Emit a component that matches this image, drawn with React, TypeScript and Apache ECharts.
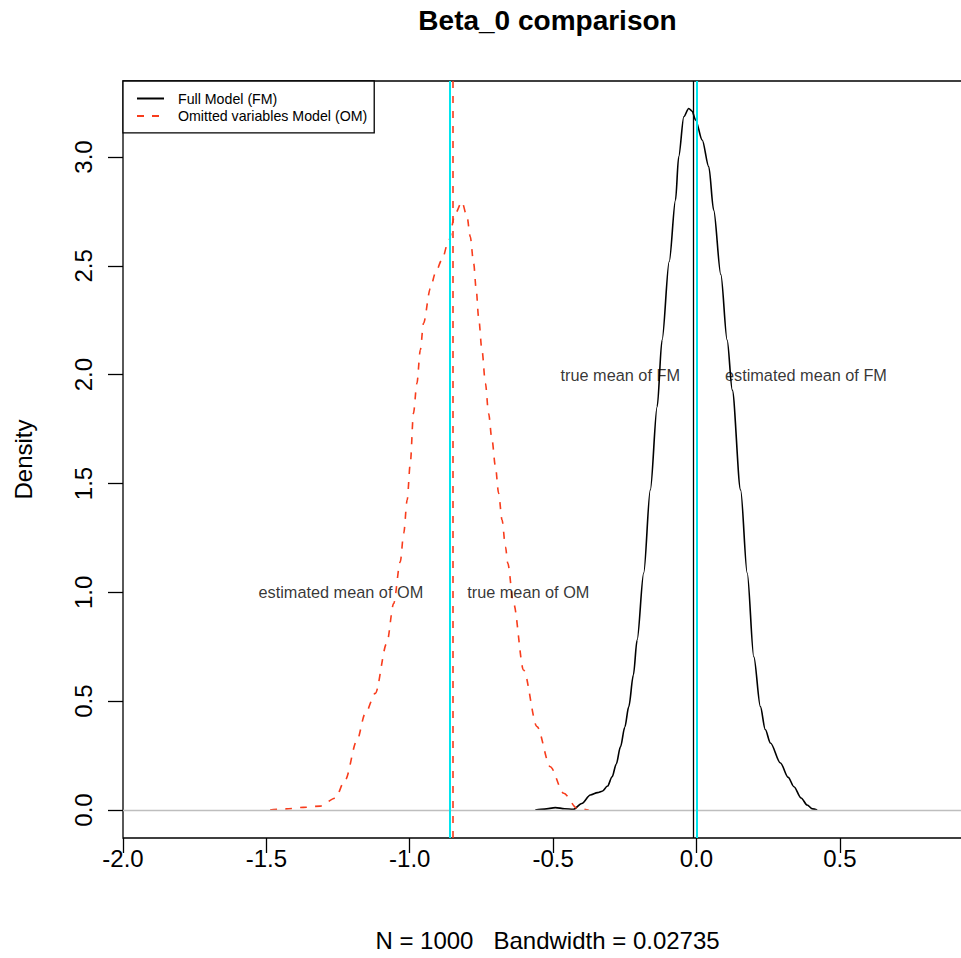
import React, { useEffect, useRef } from 'react';
import * as echarts from 'echarts';

const FONT = '"Liberation Sans", Arial, Helvetica, sans-serif';

const TITLE = 'Beta_0 comparison';
const SUBTITLE = 'N = 1000   Bandwidth = 0.02735';
const Y_NAME = 'Density';
const FM_NAME = 'Full Model (FM)';
const OM_NAME = 'Omitted variables Model (OM)';

const X_TICKS = [-2.0, -1.5, -1.0, -0.5, 0.0, 0.5];
const Y_TICKS = [0.0, 0.5, 1.0, 1.5, 2.0, 2.5, 3.0];

// Full model density
const FM_X = [
  -0.562, -0.53, -0.492, -0.46, -0.429, -0.4, -0.37, -0.345, -0.329, -0.31, -0.294,
  -0.28, -0.265, -0.25, -0.236, -0.22, -0.207, -0.184, -0.161, -0.137, -0.12, -0.095,
  -0.073, -0.062, -0.044, -0.027, -0.015, -0.003, 0.02, 0.043, 0.06, 0.085, 0.107,
  0.125, 0.154, 0.177, 0.2, 0.223, 0.24, 0.258, 0.293, 0.32, 0.34, 0.365, 0.386,
  0.405, 0.421,
];
const FM_Y = [
  0.0, 0.004, 0.011, 0.006, 0.003, 0.03, 0.069, 0.08, 0.086, 0.11, 0.153,
  0.21, 0.29, 0.38, 0.475, 0.62, 0.781, 1.089, 1.47, 1.853, 2.159, 2.52,
  2.802, 3.001, 3.185, 3.223, 3.21, 3.17, 3.078, 2.955, 2.756, 2.46, 2.159,
  1.929, 1.47, 1.089, 0.704, 0.475, 0.37, 0.308, 0.216, 0.15, 0.107, 0.055, 0.023,
  0.005, 0.0,
];

// Omitted variables model density
const OM_X = [
  -1.487, -1.43, -1.371, -1.312, -1.26, -1.225, -1.184, -1.155, -1.12, -1.08, -1.056,
  -1.033, -1.021, -1.009, -0.998, -0.987, -0.975, -0.963, -0.952, -0.928, -0.911,
  -0.888, -0.865, -0.841, -0.818, -0.8, -0.789, -0.777, -0.768, -0.76, -0.748, -0.736,
  -0.725, -0.713, -0.701, -0.69, -0.678, -0.666, -0.658, -0.638, -0.603, -0.556,
  -0.51, -0.463, -0.416, -0.376,
];
const OM_Y = [
  0.0, 0.005, 0.012, 0.018, 0.054, 0.138, 0.32, 0.444, 0.536, 0.766, 0.949,
  1.14, 1.271, 1.424, 1.593, 1.822, 1.96, 2.113, 2.236, 2.395, 2.465,
  2.526, 2.611, 2.741, 2.794, 2.725, 2.634, 2.511, 2.39, 2.266, 2.113, 1.96,
  1.822, 1.7, 1.577, 1.455, 1.332, 1.209, 1.133, 0.949, 0.643, 0.383,
  0.199, 0.077, 0.008, 0.0,
];

// vertical reference lines
const TRUE_MEAN_FM = 0.0;
const EST_MEAN_FM = -0.005;
const TRUE_MEAN_OM = -0.856;
const EST_MEAN_OM = -0.853;

// annotations
const ANN_TEXT = ['true mean of FM', 'estimated mean of FM', 'estimated mean of OM', 'true mean of OM'];
const ANN_X = [-0.0575, 0.0994, -0.953, -0.7995];
const ANN_Y = [2.0, 2.0, 1.0, 1.0];
const ANN_SIDE = ['left', 'right', 'left', 'right'];

export default function App() {
  const ref = useRef<HTMLDivElement>(null);

  useEffect(() => {
    if (!ref.current) return;
    const chart = echarts.init(ref.current, null, { renderer: 'svg' });
    const fmData = FM_X.map((x, i) => [x, FM_Y[i]]);
    const omData = OM_X.map((x, i) => [x, OM_Y[i]]);

    chart.setOption({
      animation: false,
      backgroundColor: '#ffffff',
      textStyle: { fontFamily: FONT, color: '#000' },
      title: {
        text: TITLE,
        left: 547.5,
        top: 6,
        padding: 0,
        textAlign: 'center',
        textStyle: { fontFamily: FONT, fontSize: 28, fontWeight: 'bold', color: '#000' },
      },
      legend: {
        data: [FM_NAME, OM_NAME],
        orient: 'vertical',
        left: 123,
        top: 81,
        padding: [10.5, 7, 10, 13],
        itemWidth: 27,
        itemHeight: 14,
        itemGap: 3.4,
        borderColor: '#000',
        borderWidth: 1.3,
        borderRadius: 0,
        backgroundColor: '#ffffff',
        selectedMode: false,
        itemStyle: { opacity: 0 },
        textStyle: { fontFamily: FONT, fontSize: 14.2, color: '#000', padding: [0, 0, 0, 9] },
      },
      grid: {
        left: 123,
        top: 81,
        right: 0,
        bottom: 120,
        show: true,
        borderColor: '#000',
        borderWidth: 1.3,
        backgroundColor: 'transparent',
      },
      xAxis: {
        type: 'value',
        min: -2.0,
        max: 0.961,
        splitLine: { show: false },
        axisLine: { show: false, onZero: false },
        axisTick: {
          show: true,
          length: 15,
          lineStyle: { color: '#000', width: 1.3 },
          customValues: X_TICKS,
        },
        axisLabel: {
          customValues: X_TICKS,
          formatter: (v: number) => v.toFixed(1),
          fontFamily: FONT,
          fontSize: 24,
          color: '#000',
          margin: 8,
        },
        name: SUBTITLE,
        nameLocation: 'middle',
        nameGap: 90,
        nameTextStyle: { fontFamily: FONT, fontSize: 24, color: '#000' },
      },
      yAxis: {
        type: 'value',
        min: -0.1286,
        max: 3.349,
        splitLine: { show: false },
        axisLine: { show: false, onZero: false },
        axisTick: {
          show: true,
          length: 15,
          lineStyle: { color: '#000', width: 1.3 },
          customValues: Y_TICKS,
        },
        axisLabel: {
          customValues: Y_TICKS,
          formatter: (v: number) => v.toFixed(1),
          fontFamily: FONT,
          fontSize: 24,
          color: '#000',
          rotate: 90,
          margin: 28,
        },
        name: Y_NAME,
        nameLocation: 'middle',
        nameRotate: 90,
        nameGap: 88,
        nameTextStyle: { fontFamily: FONT, fontSize: 24, color: '#000' },
      },
      series: [
        {
          name: 'zero',
          type: 'line',
          data: [],
          silent: true,
          z: 1,
          markLine: {
            silent: true,
            symbol: ['none', 'none'],
            label: { show: false },
            lineStyle: { color: '#bebebe', width: 1.3, type: 'solid' },
            data: [{ yAxis: 0 }],
          },
        },
        {
          name: FM_NAME,
          type: 'line',
          data: fmData,
          showSymbol: false,
          symbol: 'none',
          smooth: 0.3,
          smoothMonotone: 'x',
          color: '#000',
          lineStyle: { color: '#000', width: 1.6, type: 'solid' },
          z: 3,
        },
        {
          name: OM_NAME,
          type: 'line',
          data: omData,
          showSymbol: false,
          symbol: 'none',
          smooth: 0.3,
          smoothMonotone: 'x',
          color: '#f83c1c',
          lineStyle: { color: '#f83c1c', width: 1.6, type: [7, 8] },
          z: 3,
        },
        {
          name: 'means',
          type: 'line',
          data: [],
          silent: true,
          z: 4,
          markLine: {
            silent: true,
            symbol: ['none', 'none'],
            label: { show: false },
            data: [
              { xAxis: EST_MEAN_OM, lineStyle: { color: '#f83c1c', width: 1.6, type: [7, 8] } },
              { xAxis: EST_MEAN_FM, lineStyle: { color: '#000', width: 1.3, type: 'solid' } },
              { xAxis: TRUE_MEAN_OM, lineStyle: { color: '#00e5ee', width: 2, type: 'solid' } },
              { xAxis: TRUE_MEAN_FM, lineStyle: { color: '#00e5ee', width: 2, type: 'solid' } },
            ],
          },
        },
        {
          name: 'annotations',
          type: 'scatter',
          symbolSize: 0,
          silent: true,
          z: 5,
          data: ANN_X.map((x, i) => ({
            value: [x, ANN_Y[i]],
            label: {
              show: true,
              formatter: ANN_TEXT[i],
              position: ANN_SIDE[i],
              distance: 0,
              fontFamily: FONT,
              fontSize: 16.3,
              color: '#000',
            },
          })),
        },
      ],
    });

    return () => chart.dispose();
  }, []);

  return (
    <div
      ref={ref}
      style={{ position: 'fixed', left: 0, top: 0, width: 972, height: 958, background: '#fff' }}
    />
  );
}
